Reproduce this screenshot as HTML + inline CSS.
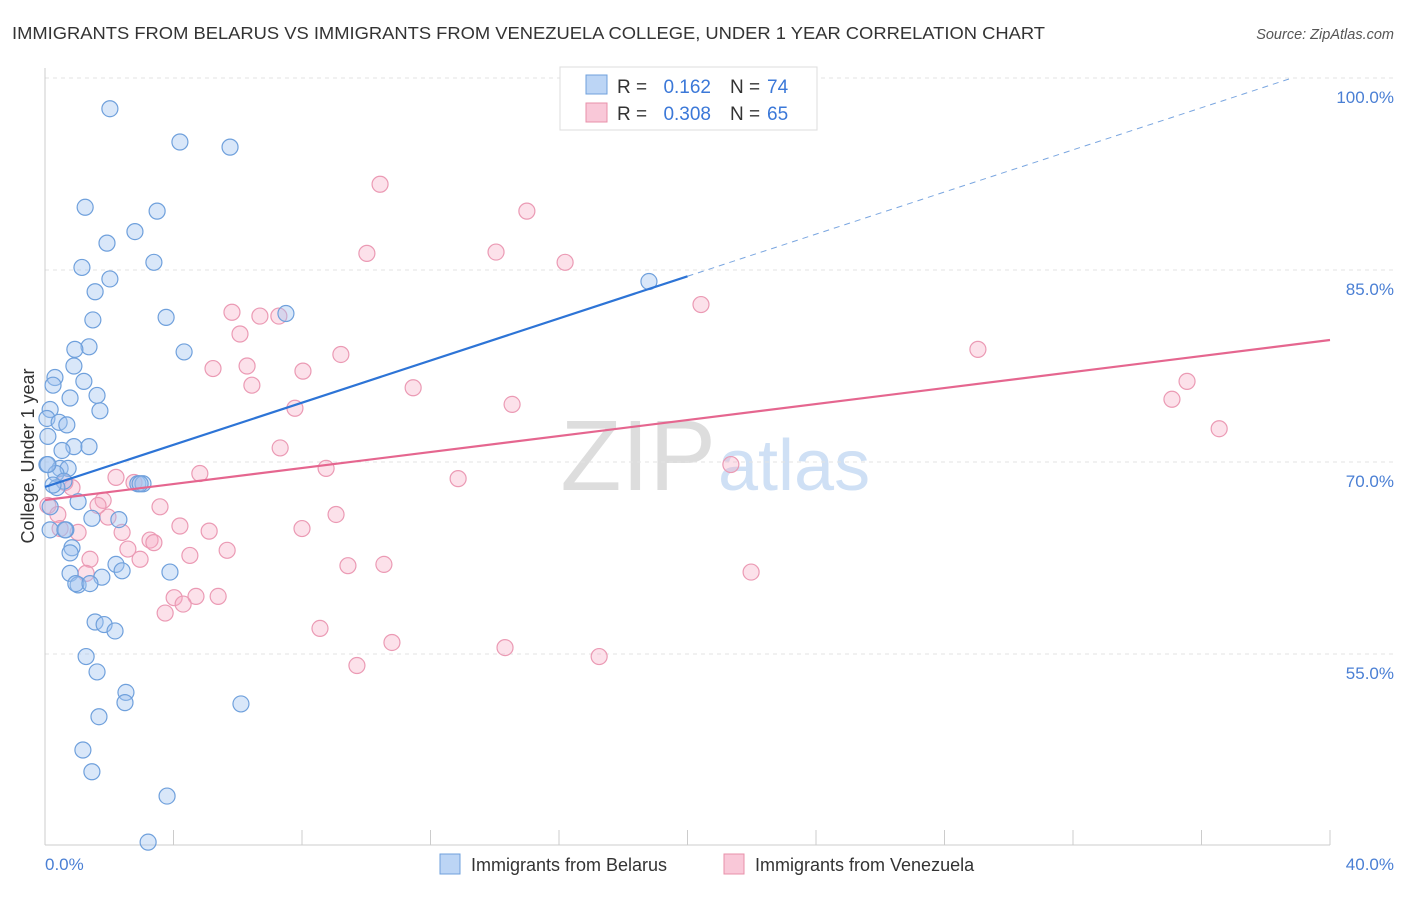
<!DOCTYPE html>
<html><head><meta charset="utf-8">
<style>
body{margin:0;background:#fff;font-family:"Liberation Sans",sans-serif;}
svg text{font-family:"Liberation Sans",sans-serif;}
</style></head>
<body>
<svg id="chart" width="1406" height="892" viewBox="0 0 1406 892" xmlns="http://www.w3.org/2000/svg">
<text x="12" y="39" font-size="17.5" fill="#333" textLength="1033" lengthAdjust="spacingAndGlyphs">IMMIGRANTS FROM BELARUS VS IMMIGRANTS FROM VENEZUELA COLLEGE, UNDER 1 YEAR CORRELATION CHART</text>
<text x="1394" y="39" font-size="14.5" fill="#555" font-style="italic" text-anchor="end">Source: ZipAtlas.com</text>
<text x="716" y="490" font-size="100" fill="#ddd" text-anchor="end" font-family="Liberation Serif,serif">ZIP</text>
<text x="718" y="490" font-size="72" fill="#cfe0f5">atlas</text>
<g id="grid"></g>
<line x1="45" y1="68" x2="45" y2="845" stroke="#ccc"/>
<line x1="45" y1="845" x2="1330" y2="845" stroke="#ccc"/>
<g id="xticks"></g>
<g id="ylabels"></g>
<text transform="translate(34,456) rotate(-90)" font-size="18" fill="#333" text-anchor="middle">College, Under 1 year</text>
<text x="45" y="870" font-size="17" fill="#4a7fd4">0.0%</text>
<text x="1394" y="870" font-size="17" fill="#4a7fd4" text-anchor="end">40.0%</text>
<g id="pink"></g>
<g id="blue"></g>
<g id="lines"></g>
<g>
<rect x="560" y="67" width="257" height="63" fill="#fff" stroke="#ddd"/>
<rect x="586" y="75" width="21" height="19" fill="#bcd5f5" stroke="#6fa0dc"/>
<rect x="586" y="103" width="21" height="19" fill="#f9c8d8" stroke="#e890aa"/>
<text x="617" y="93" font-size="19" fill="#333">R =</text>
<text x="711" y="93" font-size="19" fill="#3b78d8" text-anchor="end">0.162</text>
<text x="730" y="93" font-size="19" fill="#333">N =</text>
<text x="767" y="93" font-size="19" fill="#3b78d8">74</text>
<text x="617" y="120" font-size="19" fill="#333">R =</text>
<text x="711" y="120" font-size="19" fill="#3b78d8" text-anchor="end">0.308</text>
<text x="730" y="120" font-size="19" fill="#333">N =</text>
<text x="767" y="120" font-size="19" fill="#3b78d8">65</text>
</g>
<g>
<rect x="440" y="854" width="20" height="20" fill="#bcd5f5" stroke="#6fa0dc"/>
<text x="471" y="871" font-size="18" fill="#333">Immigrants from Belarus</text>
<rect x="724" y="854" width="20" height="20" fill="#f9c8d8" stroke="#e890aa"/>
<text x="755" y="871" font-size="18" fill="#333">Immigrants from Venezuela</text>
</g>
</svg>
<script>
const yTicks=[55,70,85,100];
const yTickLabels=["55.0%","70.0%","85.0%","100.0%"];
const xTickVals=[0,4,8,12,16,20,24,28,32,36,40];
const belarusX=[2.02,4.20,5.76,1.25,3.49,2.80,1.93,1.15,3.39,2.02,1.56,3.77,1.49,7.50,1.37,0.93,4.33,0.90,0.31,1.21,0.25,0.78,1.62,1.71,0.16,0.06,0.44,0.68,0.09,0.90,1.37,0.53,0.06,0.47,0.72,0.34,0.59,0.37,2.89,3.05,1.03,1.46,2.30,0.16,0.65,0.16,0.84,0.78,2.21,2.40,0.78,3.89,1.77,1.03,0.96,1.56,1.84,2.18,1.28,1.62,2.52,2.49,1.68,6.10,1.18,1.46,3.80,3.21,18.80,2.96,0.09,0.25,0.62,1.40];
const belarusY=[97.6,95.0,94.6,89.9,89.6,88.0,87.1,85.2,85.6,84.3,83.3,81.3,81.1,81.6,79.0,78.8,78.6,77.5,76.6,76.3,76.0,75.0,75.2,74.0,74.1,73.4,73.1,72.9,72.0,71.2,71.2,70.9,69.8,69.5,69.5,69.1,68.5,68.0,68.3,68.3,66.9,65.6,65.5,66.5,64.7,64.7,63.3,62.9,62.0,61.5,61.3,61.4,61.0,60.4,60.5,57.5,57.3,56.8,54.8,53.6,52.0,51.2,50.1,51.1,47.5,45.8,43.9,40.3,84.1,68.3,69.8,68.2,64.7,60.5];
const venezuelaX=[10.43,15.00,14.04,10.02,16.19,20.42,5.82,6.69,7.28,6.07,9.21,29.04,5.23,6.29,8.03,6.44,11.46,35.55,35.08,7.78,14.54,36.55,7.32,21.35,8.75,4.82,12.86,2.21,0.84,2.77,0.62,1.81,3.58,1.65,1.96,9.06,4.20,5.11,8.00,0.09,0.40,0.47,1.03,2.40,3.27,3.39,2.58,4.51,5.67,1.40,2.96,9.43,10.55,21.98,1.28,4.02,4.70,5.39,4.30,3.74,8.56,10.80,14.32,17.25,9.71];
const venezuelaY=[91.7,89.6,86.4,86.3,85.6,82.3,81.7,81.4,81.4,80.0,78.4,78.8,77.3,77.5,77.1,76.0,75.8,76.3,74.9,74.2,74.5,72.6,71.1,69.8,69.5,69.1,68.7,68.8,68.0,68.4,68.4,67.0,66.5,66.6,65.7,65.9,65.0,64.6,64.8,66.6,65.9,64.8,64.5,64.5,63.9,63.7,63.2,62.7,63.1,62.4,62.4,61.9,62.0,61.4,61.3,59.4,59.5,59.5,58.9,58.2,57.0,55.9,55.5,54.8,54.1];
const belarusFit=[68.05,0.823];
const venezuelaFit=[67.03,0.3125];
const NS="http://www.w3.org/2000/svg";
const sx=v=>45+v*1285/40;
const sy=v=>78+(100-v)*12.8;
function mk(tag,attrs,parent){const e=document.createElementNS(NS,tag);for(const k in attrs)e.setAttribute(k,attrs[k]);document.getElementById(parent).appendChild(e);return e;}
yTicks.forEach((t,i)=>{
 const g=mk('line',{x1:45,x2:1394,y1:sy(t),y2:sy(t),stroke:'#e3e3e3','stroke-dasharray':'4,4'},'grid');
 
 
 const l=mk('text',{x:1394,y:sy(t)+25,'font-size':17,fill:'#4a7fd4','text-anchor':'end'},'ylabels');
 l.textContent=yTickLabels[i];
 
 
});
xTickVals.forEach(v=>{
 const t=mk('line',{x1:sx(v),x2:sx(v),y1:830,y2:845,stroke:'#ccc'},'xticks');
 
 
});
venezuelaX.forEach((x,i)=>{
 const c=mk('circle',{cx:sx(x),cy:sy(venezuelaY[i]),r:8,fill:'rgba(246,170,195,0.35)',stroke:'#eb9ab4','stroke-width':1.2},'pink');
 
 
});
belarusX.forEach((x,i)=>{
 const c=mk('circle',{cx:sx(x),cy:sy(belarusY[i]),r:8,fill:'rgba(160,195,240,0.4)',stroke:'#6fa0dc','stroke-width':1.2},'blue');
 
 
});
const bf=x=>belarusFit[0]+belarusFit[1]*x;
const vf=x=>venezuelaFit[0]+venezuelaFit[1]*x;
let l1=mk('line',{x1:sx(0),y1:sy(bf(0)),x2:sx(20),y2:sy(bf(20)),stroke:'#2d74d6','stroke-width':2.2},'lines');


const xEnd=(100-belarusFit[0])/belarusFit[1];
let l2=mk('line',{x1:sx(20),y1:sy(bf(20)),x2:sx(xEnd),y2:sy(bf(xEnd)),stroke:'#7aa6e0','stroke-width':1,'stroke-dasharray':'6,5'},'lines');


let l3=mk('line',{x1:sx(0),y1:sy(vf(0)),x2:sx(40),y2:sy(vf(40)),stroke:'#e5668f','stroke-width':2.2},'lines');


</script>
</body></html>
